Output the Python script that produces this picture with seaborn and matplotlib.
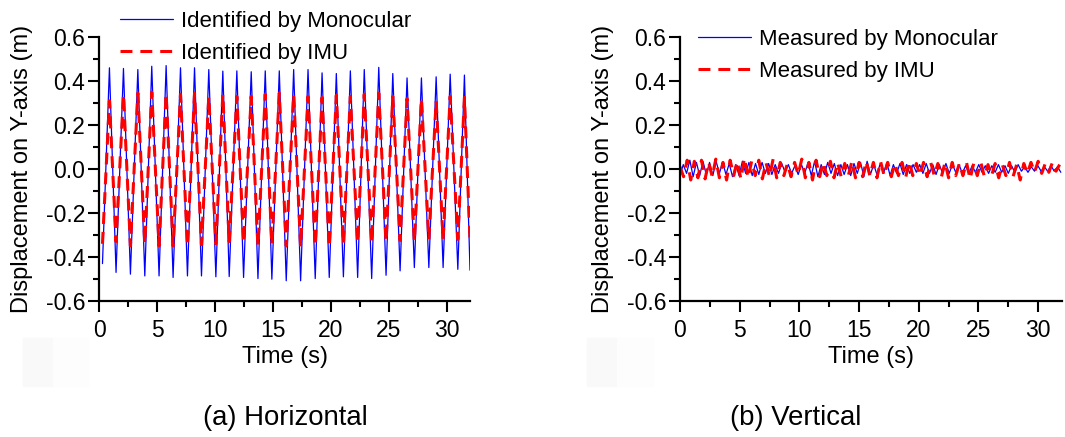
import numpy as np
import pandas as pd
import matplotlib
matplotlib.use("Agg")
import matplotlib.pyplot as plt
from matplotlib.lines import Line2D
from matplotlib.patches import Rectangle
from matplotlib.ticker import MultipleLocator, FormatStrFormatter
import seaborn as sns

# ---------------- data ----------------
# (a) Horizontal: extrema of the oscillation
peak_t = [0.90, 2.11, 3.35, 4.55, 5.79, 7.03, 8.24, 9.47, 10.68, 11.89, 13.13, 14.34, 15.55,
          16.79, 18.03, 19.24, 20.47, 21.68, 22.88, 24.13, 25.34, 26.57, 27.81, 29.08, 30.29, 31.52]
trough_t = [1.47, 2.71, 3.95, 5.18, 6.39, 7.63, 8.84, 10.08, 11.23, 12.47, 13.71, 14.91, 16.15,
            17.39, 18.65, 19.86, 21.08, 22.31, 23.52, 24.76, 25.97, 27.20, 28.45, 29.68, 30.95]
start_t, end_t = 0.30, 32.0

mono_h_peak = [0.460, 0.457, 0.452, 0.467, 0.470, 0.460, 0.460, 0.452, 0.445, 0.446, 0.442, 0.446, 0.446,
               0.452, 0.452, 0.437, 0.434, 0.446, 0.452, 0.462, 0.434, 0.414, 0.414, 0.419, 0.431, 0.427]
mono_h_trough = [-0.470, -0.478, -0.486, -0.486, -0.493, -0.486, -0.486, -0.490, -0.489, -0.493, -0.498,
                 -0.501, -0.508, -0.508, -0.498, -0.493, -0.490, -0.493, -0.498, -0.483, -0.463, -0.448,
                 -0.448, -0.448, -0.456]
mono_h_start, mono_h_end = -0.43, -0.46

imu_h_peak = [0.310, 0.340, 0.345, 0.350, 0.345, 0.340, 0.345, 0.330, 0.340, 0.330, 0.330, 0.340, 0.345,
              0.340, 0.330, 0.325, 0.335, 0.330, 0.340, 0.345, 0.330, 0.320, 0.320, 0.310, 0.330, 0.325]
imu_h_trough = [-0.330, -0.350, -0.340, -0.350, -0.350, -0.350, -0.345, -0.340, -0.330, -0.335, -0.350,
                -0.345, -0.350, -0.355, -0.350, -0.355, -0.340, -0.335, -0.335, -0.330, -0.325, -0.330,
                -0.320, -0.320, -0.320]
imu_h_start, imu_h_end = -0.34, -0.32

# (b) Vertical: successive extrema of the small noisy response
mono_v = [-0.03, 0.02, -0.02, 0.04, -0.035, 0.03, -0.03, 0.035, -0.025, 0.03, -0.03, 0.035, -0.02, 0.03,
          -0.025, 0.025, -0.035, 0.02, -0.03, 0.035, -0.02, 0.03, -0.03, 0.025, -0.025, 0.03, -0.02, 0.025,
          -0.025, 0.02, -0.02, 0.025, -0.015, 0.02, -0.02, 0.015, -0.025, 0.02, -0.02, 0.03, -0.03, 0.035,
          -0.035, 0.02, -0.025, 0.03, -0.02, 0.025, -0.03, 0.02, -0.025, 0.02, -0.03, 0.025, -0.02, 0.03,
          -0.035, 0.035, -0.025, 0.02, -0.025, 0.025, -0.02, 0.03, -0.03, 0.02, -0.02, 0.025, -0.025, 0.02,
          -0.02, 0.02, -0.015, 0.02, -0.02, 0.025, -0.02, 0.02, -0.025, 0.02, -0.02, 0.025, -0.02, 0.02,
          -0.015, 0.02, -0.02, 0.015, -0.02, 0.015, -0.015, 0.02, -0.015, 0.015, -0.02, 0.015, -0.015, 0.02,
          -0.015, 0.015, -0.02, 0.015, -0.015, 0.02, -0.01, 0.01, -0.015, 0.01, -0.01, 0.015, -0.01, 0.01,
          -0.01, 0.015, -0.01, 0.01, -0.015]
imu_v = [0.01, -0.035, 0.04, -0.05, 0.035, -0.04, 0.04, -0.045, 0.03, -0.035, 0.045, -0.04, 0.03, -0.05,
         0.04, -0.03, 0.035, -0.045, 0.05, -0.04, 0.035, -0.03, 0.04, -0.045, 0.03, -0.035, 0.045, -0.04,
         0.03, -0.03, 0.025, -0.035, 0.03, -0.025, 0.045, -0.04, 0.03, -0.05, 0.04, -0.035, 0.03, -0.03,
         0.035, -0.04, 0.03, -0.035, 0.025, -0.03, 0.035, -0.04, 0.03, -0.035, 0.035, -0.03,
         0.03, -0.04, 0.035, -0.03, 0.03, -0.035, 0.025, -0.03, 0.03, -0.04, 0.035, -0.03, 0.025, -0.03,
         0.03, -0.035, 0.03, -0.03, 0.025, -0.035, 0.03, -0.04, 0.03, -0.03, 0.025, -0.03,
         0.03, -0.045, 0.025, -0.03, 0.03, -0.035, 0.02, -0.03, 0.025, -0.04, 0.02, -0.03, 0.03, -0.035,
         0.02, -0.05, 0.025, -0.02, 0.03, -0.015, 0.035, -0.02, 0.025, -0.015, 0.03, -0.01, 0.02]
mono_v_t = np.linspace(0.0, 31.9, len(mono_v))
imu_v_t = np.linspace(0.0, 31.8, len(imu_v))

x_ticks = [0, 5, 10, 15, 20, 25, 30]
y_ticks = [-0.6, -0.4, -0.2, 0.0, 0.2, 0.4, 0.6]
labels_a = ["Identified by Monocular", "Identified by IMU"]
labels_b = ["Measured by Monocular", "Measured by IMU"]
captions = ["(a) Horizontal", "(b) Vertical"]


def series(start, peaks, troughs, end, st=start_t):
    t = [st] + peak_t + trough_t + [end_t]
    v = [start] + peaks + troughs + [end]
    df = pd.DataFrame({"t": t, "v": v}).sort_values("t")
    return df


mono_h = series(mono_h_start, mono_h_peak, mono_h_trough, mono_h_end)
imu_h = series(imu_h_start, imu_h_peak, imu_h_trough, imu_h_end)
mono_vdf = pd.DataFrame({"t": mono_v_t, "v": mono_v})
imu_vdf = pd.DataFrame({"t": imu_v_t, "v": imu_v})

# ---------------- style ----------------
sns.set_theme(style="white")
plt.rcParams["font.family"] = ["Liberation Sans", "DejaVu Sans"]
plt.rcParams["axes.unicode_minus"] = False
plt.rcParams["text.color"] = "black"
plt.rcParams["axes.labelcolor"] = "black"
plt.rcParams["xtick.color"] = "black"
plt.rcParams["ytick.color"] = "black"
FS_TICK = 16.5
FS_LAB = 17
FS_LEG = 16
FS_CAP = 19.8

BLUE = "#0000FF"
RED = "#FF0000"
DASH = (0, (3.9, 2.6))

fig = plt.figure(figsize=(10.65, 4.37), dpi=100)
axL = fig.add_axes([99 / 1065, 1 - 301 / 437, 371 / 1065, 264 / 437])
axR = fig.add_axes([680 / 1065, 1 - 301 / 437, 382 / 1065, 264 / 437])

for ax, (m, i) in zip([axL, axR], [(mono_h, imu_h), (mono_vdf, imu_vdf)]):
    sns.lineplot(data=m, x="t", y="v", ax=ax, color=BLUE, lw=0.9, sort=False,
                 estimator=None)
    sns.lineplot(data=i, x="t", y="v", ax=ax, color=RED, lw=2.2, linestyle=DASH,
                 sort=False, estimator=None)
    ax.set_xlim(0, 32)
    ax.set_ylim(-0.6, 0.6)
    ax.set_xticks(x_ticks)
    ax.set_yticks(y_ticks)
    ax.xaxis.set_minor_locator(MultipleLocator(2.5))
    ax.yaxis.set_minor_locator(MultipleLocator(0.1))
    ax.yaxis.set_major_formatter(FormatStrFormatter("%.1f"))
    for s in ["top", "right"]:
        ax.spines[s].set_visible(False)
    for s in ["left", "bottom"]:
        ax.spines[s].set_color("black")
        ax.spines[s].set_linewidth(1.6)
    ax.tick_params(which="both", direction="out", bottom=True, left=True,
                   color="black", width=1.5, labelsize=FS_TICK, labelcolor="black")
    ax.tick_params(axis="x", which="major", length=8, pad=5)
    ax.tick_params(axis="y", which="major", length=8, pad=2)
    ax.tick_params(which="minor", length=4.5)
    ax.set_xlabel("Time (s)", fontsize=FS_LAB, color="black", labelpad=3)
    ax.set_ylabel("Displacement on Y-axis (m)", fontsize=FS_LAB, color="black")
    ax.yaxis.set_label_coords(-66 / (ax.get_position().width * 1065), 0.50)
    ax.set_facecolor("none")

for ax, labels, anchor in [(axL, labels_a, (120 / 1065, 1 - 11 / 437)),
                           (axR, labels_b, (698 / 1065, 1 - 29 / 437))]:
    handles = [Line2D([], [], color=BLUE, lw=0.9),
               Line2D([], [], color=RED, lw=2.2, linestyle=DASH)]
    leg = ax.legend(handles, labels, loc="upper left", bbox_to_anchor=anchor,
                    bbox_transform=fig.transFigure, frameon=False, fontsize=FS_LEG,
                    borderpad=0, borderaxespad=0, handlelength=2.4, handletextpad=0.36,
                    labelspacing=0.48)
    for t in leg.get_texts():
        t.set_color("black")

fig.text(285 / 1065, 1 - 418 / 437, captions[0], ha="center", va="center",
         fontsize=FS_CAP, color="black")
fig.text(796 / 1065, 1 - 418 / 437, captions[1], ha="center", va="center",
         fontsize=FS_CAP, color="black")

# faint scanning artefacts in the reference
for (x0, x1, c) in [(23, 53, "#F9F9F9"), (53, 88, "#FDFDFD"), (587, 617, "#F9F9F9"), (617, 653, "#FDFDFD")]:
    fig.patches.append(Rectangle((x0 / 1065, 1 - 386 / 437), (x1 - x0) / 1065, 48 / 437,
                                 transform=fig.transFigure, color=c, zorder=-1))

fig.savefig("out.png", dpi=100)
